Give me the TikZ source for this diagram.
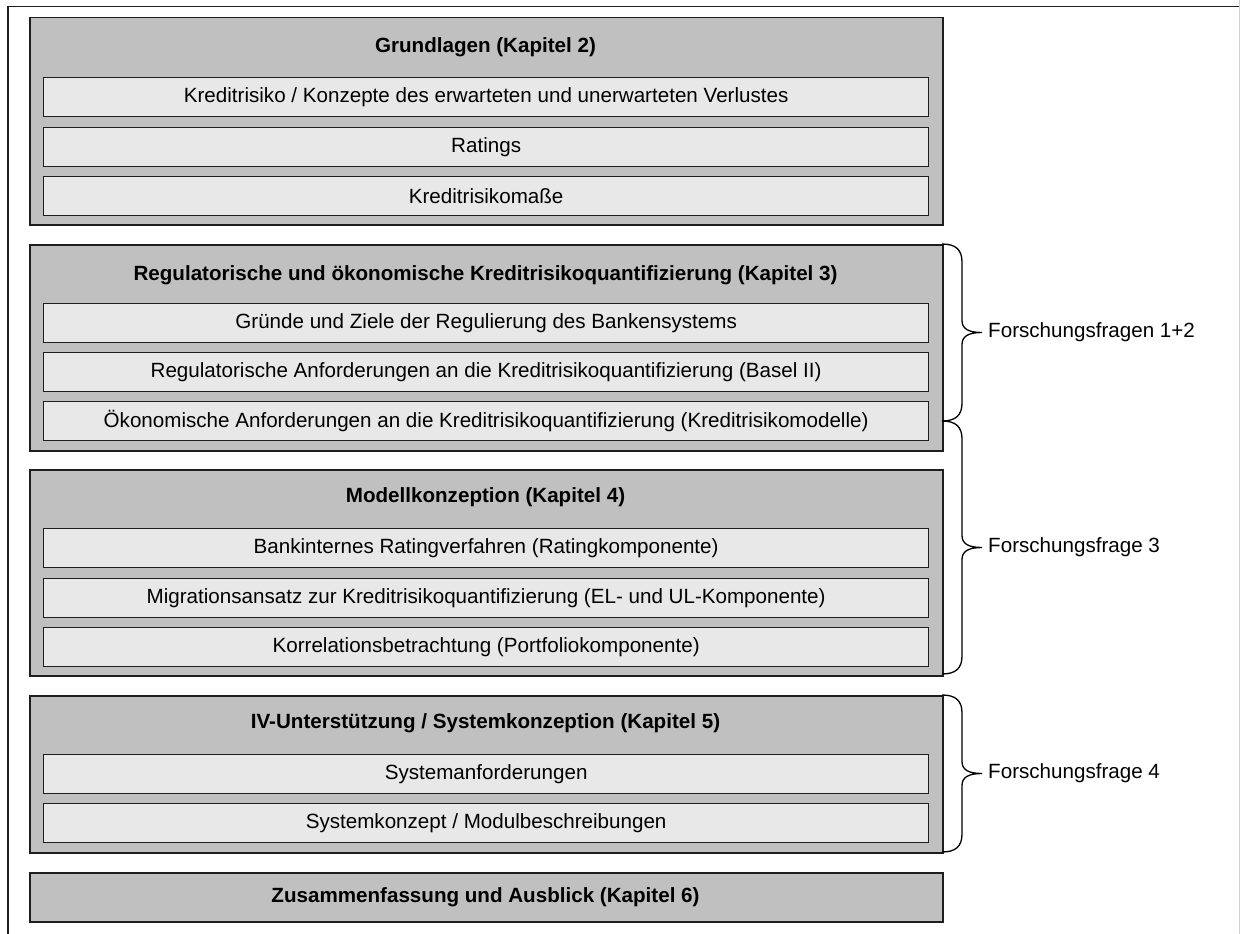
\documentclass[tikz,border=0pt]{standalone}
\usepackage{fontspec}
\setmainfont{Liberation Sans}
\definecolor{chapfill}{HTML}{C0C0C0}
\definecolor{topicfill}{HTML}{E8E8E8}
\definecolor{edge}{HTML}{1E1E1E}
% brace on the right of the chapter column: #1 top y, #2 bottom y, #3 name, #4 label
\newcommand{\questionbrace}[4]{%
  \pgfmathsetmacro{\ymid}{(#1+#2)/2}%
  \draw[bracestyle] (942,#1) .. controls (956,#1) and (962,#1+6) .. (962,#1+18)
    -- (962,\ymid-12) .. controls (962,\ymid-4) and (968,\ymid) .. (982,\ymid)
    .. controls (968,\ymid) and (962,\ymid+4) .. (962,\ymid+12)
    -- (962,#2-18) .. controls (962,#2-6) and (956,#2) .. (942,#2);
  \node[question] (#3) at (988,\ymid) {#4};%
}
\begin{document}
\begin{tikzpicture}[x=1pt,y=-1pt,
  chapter/.style={draw=edge, line width=1.5pt, fill=chapfill, anchor=north west,
    inner sep=0pt, minimum width=913pt},
  chaptitle/.style={font=\fontsize{20.6}{24}\selectfont\bfseries, inner sep=0pt},
  topic/.style={draw=edge, line width=1.3pt, fill=topicfill, anchor=north west,
    inner sep=0pt, minimum width=885pt, minimum height=38.5pt,
    font=\fontsize{20.6}{24}\selectfont},
  bracestyle/.style={draw=black, line width=1.3pt},
  question/.style={anchor=west, inner sep=0pt, font=\fontsize{20.6}{24}\selectfont},
  frame/.style={draw=edge, line width=1.6pt}
]
\useasboundingbox (0,0) rectangle (1240,934);

% page frame
\draw[frame] (8,934) -- (8,6.5) -- (1240,6.5);
\draw[draw=gray!35, line width=1pt] (1239.5,0) -- (1239.5,934);

% Kapitel 2
\node[chapter, minimum height=207pt] (g1) at (29,17) {};
\node[chaptitle] (t1) at (485.5,47) {Grundlagen (Kapitel 2)};
\node[topic] (k1) at (43,77) {Kreditrisiko / Konzepte des erwarteten und unerwarteten Verlustes};
\node[topic] (k2) at (43,127) {Ratings};
\node[topic] (k3) at (43,176) {Kreditrisikomaße};

% Kapitel 3
\node[chapter, minimum height=206pt] (g2) at (29,244) {};
\node[chaptitle] (t2) at (485.5,275) {Regulatorische und ökonomische Kreditrisikoquantifizierung (Kapitel 3)};
\node[topic] (r1) at (43,303) {Gründe und Ziele der Regulierung des Bankensystems};
\node[topic] (r2) at (43,352) {Regulatorische Anforderungen an die Kreditrisikoquantifizierung (Basel II)};
\node[topic] (r3) at (43,401) {Ökonomische Anforderungen an die Kreditrisikoquantifizierung (Kreditrisikomodelle)};

% Kapitel 4
\node[chapter, minimum height=206pt] (g3) at (29,469) {};
\node[chaptitle] (t3) at (485.5,497) {Modellkonzeption (Kapitel 4)};
\node[topic] (m1) at (43,528) {Bankinternes Ratingverfahren (Ratingkomponente)};
\node[topic] (m2) at (43,578) {Migrationsansatz zur Kreditrisikoquantifizierung (EL- und UL-Komponente)};
\node[topic] (m3) at (43,627) {Korrelationsbetrachtung (Portfoliokomponente)};

% Kapitel 5
\node[chapter, minimum height=157pt] (g4) at (29,695) {};
\node[chaptitle] (t4) at (485.5,723) {IV-Unterstützung / Systemkonzeption (Kapitel 5)};
\node[topic] (s1) at (43,754) {Systemanforderungen};
\node[topic] (s2) at (43,803) {Systemkonzept / Modulbeschreibungen};

% Kapitel 6
\node[chapter, minimum height=49pt] (g5) at (29,872) {};
\node[chaptitle] (t5) at (485.5,897) {Zusammenfassung und Ausblick (Kapitel 6)};

% research questions
\questionbrace{244}{421}{f12}{Forschungsfragen 1+2}
\questionbrace{421}{674}{f3}{Forschungsfrage 3}
\questionbrace{695}{852}{f4}{Forschungsfrage 4}
\end{tikzpicture}
\end{document}
